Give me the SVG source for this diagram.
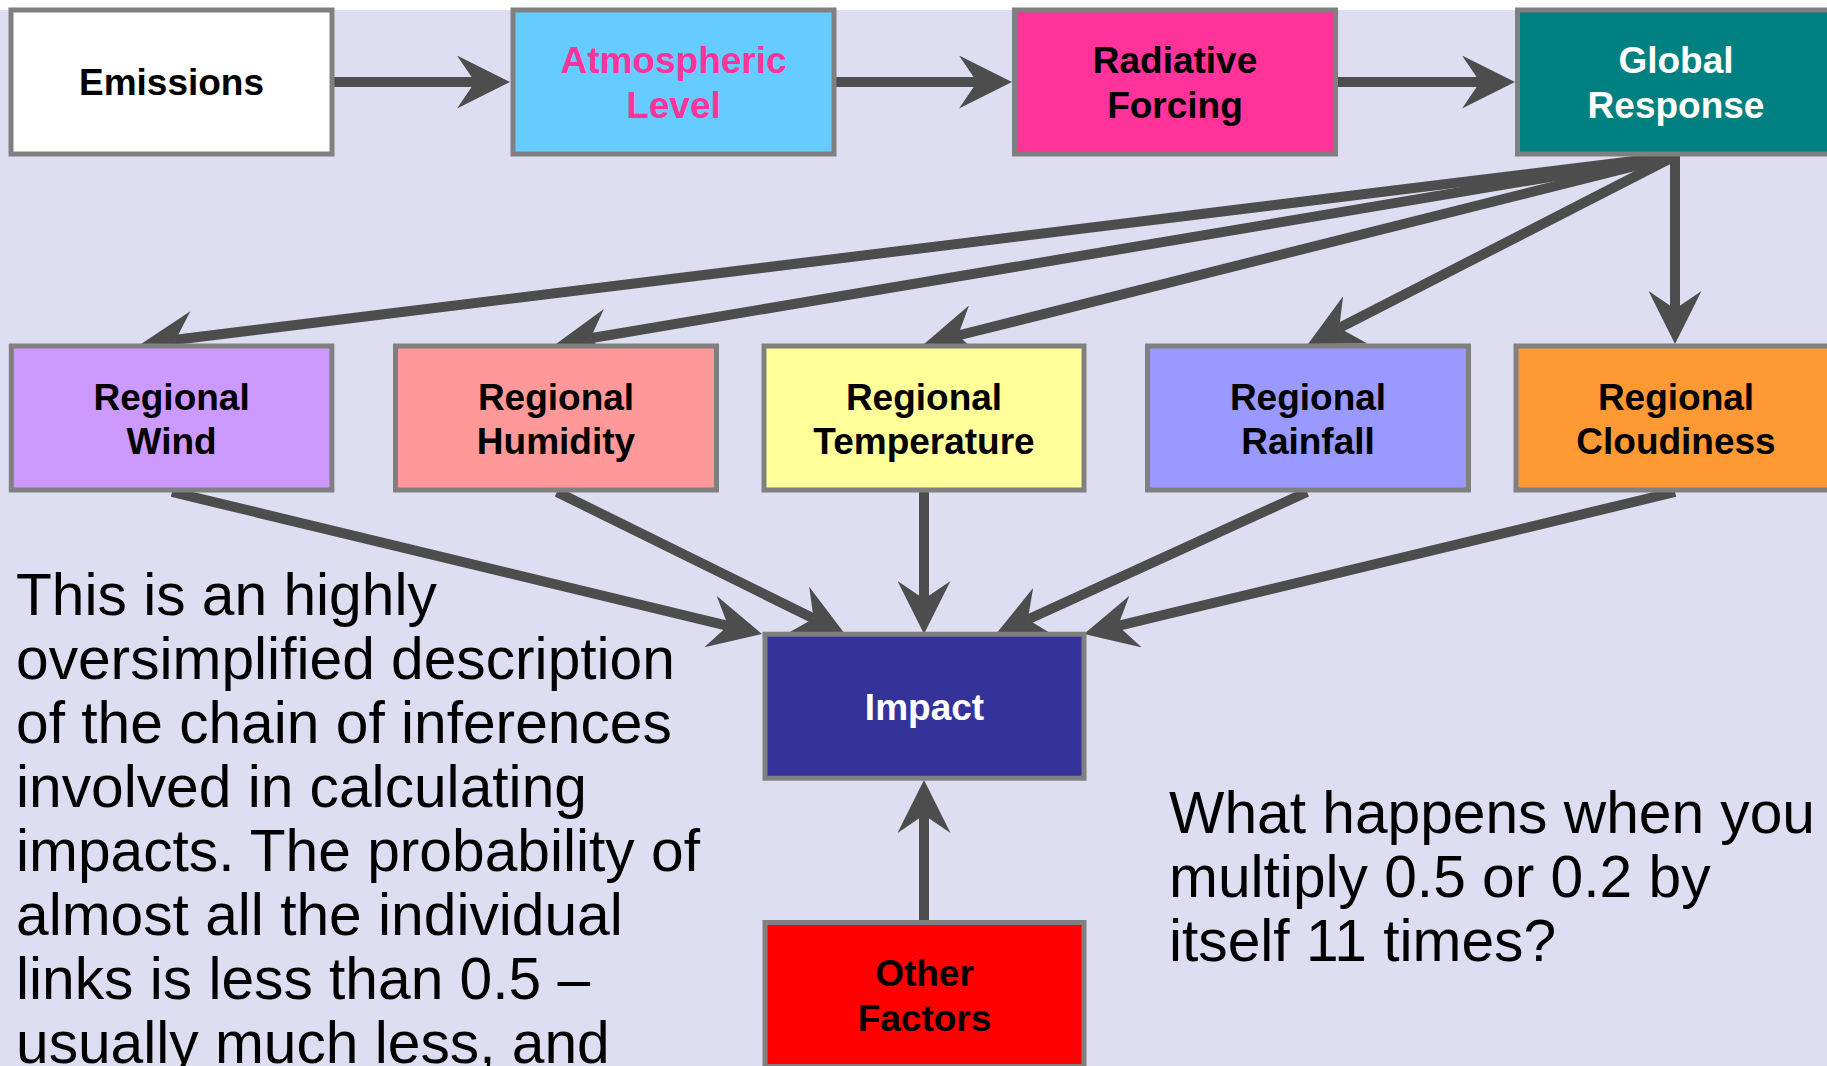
<svg xmlns="http://www.w3.org/2000/svg" width="1827" height="1066" viewBox="0 0 1827 1066">
<style>
.box{stroke:#808080;stroke-width:5}
.lbl{font-family:"Liberation Sans",Arial,sans-serif;font-weight:bold;font-size:37px;text-anchor:middle}
.body{font-family:"Liberation Sans",Arial,sans-serif;font-size:58.7px;fill:#000}
.conn{stroke:#4D4D4D;stroke-width:10;fill:none;marker-end:url(#ah)}
</style>
<defs>
<marker id="ah" markerUnits="userSpaceOnUse" markerWidth="53" markerHeight="53" refX="18" refY="26.5" orient="auto" viewBox="0 0 53 53">
<path d="M0,0 L53,26.5 L0,53 L18,26.5 Z" fill="#4D4D4D"/>
</marker>
</defs>
<rect x="0" y="0" width="1827" height="1066" fill="#FFFFFF"/>
<rect x="0" y="10" width="1827" height="1056" fill="#DEDEF2"/>
<g id="connectors">
<line class="conn" x1="334" y1="82" x2="475" y2="82"/>
<line class="conn" x1="836" y1="82" x2="977" y2="82"/>
<line class="conn" x1="1337" y1="82" x2="1480" y2="82"/>
<line class="conn" x1="1675" y1="156" x2="175.7" y2="339.7"/>
<line class="conn" x1="1675" y1="156" x2="590.5" y2="338.2"/>
<line class="conn" x1="1675" y1="156" x2="958" y2="335.5"/>
<line class="conn" x1="1675" y1="156" x2="1339.2" y2="328"/>
<line class="conn" x1="1675" y1="156" x2="1675" y2="309"/>
<line class="conn" x1="172" y1="492" x2="728" y2="625.8"/>
<line class="conn" x1="557" y1="492" x2="813.6" y2="618.5"/>
<line class="conn" x1="924" y1="492" x2="924" y2="599"/>
<line class="conn" x1="1307" y1="492" x2="1027.8" y2="619.5"/>
<line class="conn" x1="1675" y1="492" x2="1118" y2="625.8"/>
<line class="conn" x1="924" y1="922" x2="924" y2="815"/>
</g>
<g id="emissions">
<rect class="box" x="11" y="10" width="321" height="144" fill="#FFFFFF"/>
<text class="lbl" x="171.5" y="95" fill="#000">Emissions</text>
</g>
<g id="atmospheric-level">
<rect class="box" x="513" y="10" width="321" height="144" fill="#66CCFF"/>
<text class="lbl" x="673.5" y="73" fill="#FF3399">Atmospheric</text>
<text class="lbl" x="673.5" y="117.5" fill="#FF3399">Level</text>
</g>
<g id="radiative-forcing">
<rect class="box" x="1014.5" y="10" width="321" height="144" fill="#FF3399"/>
<text class="lbl" x="1175" y="73" fill="#000">Radiative</text>
<text class="lbl" x="1175" y="117.5" fill="#000">Forcing</text>
</g>
<g id="global-response">
<rect class="box" x="1517.5" y="10" width="321" height="144" fill="#008080"/>
<text class="lbl" x="1676" y="73" fill="#FFF">Global</text>
<text class="lbl" x="1676" y="117.5" fill="#FFF">Response</text>
</g>
<g id="regional-wind">
<rect class="box" x="11.3" y="346" width="320.6" height="144" fill="#CC99FF"/>
<text class="lbl" x="171.6" y="409.5" fill="#000">Regional</text>
<text class="lbl" x="171.6" y="454" fill="#000">Wind</text>
</g>
<g id="regional-humidity">
<rect class="box" x="395.5" y="346" width="321" height="144" fill="#FF9999"/>
<text class="lbl" x="556" y="409.5" fill="#000">Regional</text>
<text class="lbl" x="556" y="454" fill="#000">Humidity</text>
</g>
<g id="regional-temperature">
<rect class="box" x="764" y="346" width="320" height="144" fill="#FFFF99"/>
<text class="lbl" x="924" y="409.5" fill="#000">Regional</text>
<text class="lbl" x="924" y="454" fill="#000">Temperature</text>
</g>
<g id="regional-rainfall">
<rect class="box" x="1147.5" y="346" width="321" height="144" fill="#9999FF"/>
<text class="lbl" x="1308" y="409.5" fill="#000">Regional</text>
<text class="lbl" x="1308" y="454" fill="#000">Rainfall</text>
</g>
<g id="regional-cloudiness">
<rect class="box" x="1516" y="346" width="321" height="144" fill="#FF9933"/>
<text class="lbl" x="1676" y="409.5" fill="#000">Regional</text>
<text class="lbl" x="1676" y="454" fill="#000">Cloudiness</text>
</g>
<g id="impact">
<rect class="box" x="765" y="634.2" width="319" height="144" fill="#333399"/>
<text class="lbl" x="924.5" y="719.5" fill="#FFF">Impact</text>
</g>
<g id="other-factors">
<rect class="box" x="765" y="922.5" width="319" height="144" fill="#FF0000"/>
<text class="lbl" x="924.5" y="986" fill="#000">Other</text>
<text class="lbl" x="924.5" y="1031" fill="#000">Factors</text>
</g>
<g id="note-left">
<text class="body" x="16" y="615">This is an highly</text>
<text class="body" x="16" y="679">oversimplified description</text>
<text class="body" x="16" y="743">of the chain of inferences</text>
<text class="body" x="16" y="807">involved in calculating</text>
<text class="body" x="16" y="871">impacts. The probability of</text>
<text class="body" x="16" y="935">almost all the individual</text>
<text class="body" x="16" y="999">links is less than 0.5 –</text>
<text class="body" x="16" y="1063">usually much less, and</text>
</g>
<g id="note-right">
<text class="body" x="1169" y="833">What happens when you</text>
<text class="body" x="1169" y="897">multiply 0.5 or 0.2 by</text>
<text class="body" x="1169" y="961">itself 11 times?</text>
</g>
</svg>
